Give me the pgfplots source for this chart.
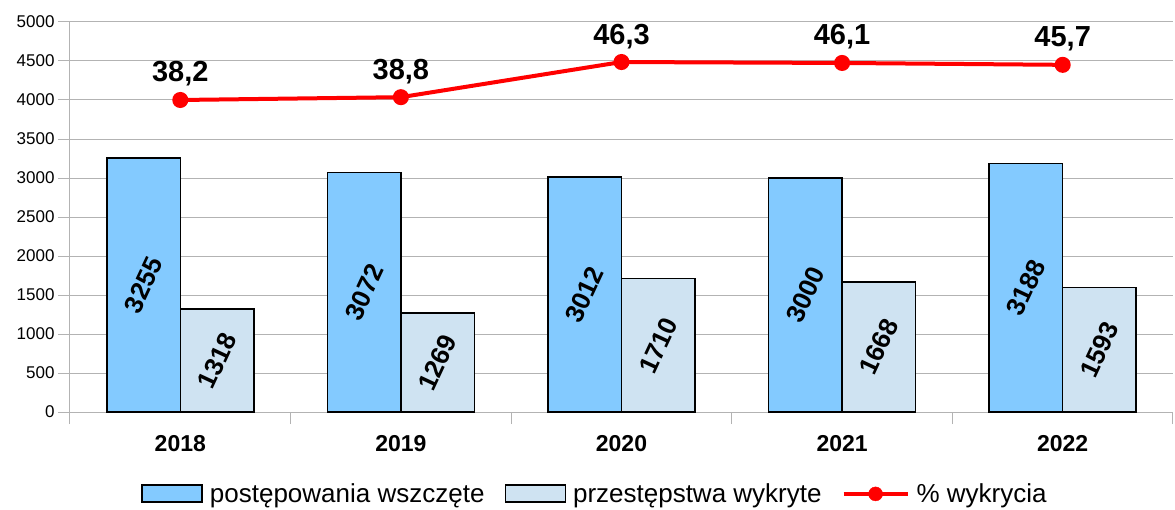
\documentclass[border=0pt]{standalone}
\usepackage{fontspec}
\setmainfont{Liberation Sans}
\usepackage{pgfplots}
\pgfplotsset{compat=1.18}
\definecolor{barA}{RGB}{131,202,255}
\definecolor{barB}{RGB}{207,227,242}
\definecolor{gridc}{RGB}{179,179,179}
\definecolor{lineR}{RGB}{255,0,0}

\begin{document}
\begin{tikzpicture}
\useasboundingbox (-70pt,-97pt) rectangle (1105pt,412pt);
% bars: case counts
\begin{axis}[
  scale only axis, width=1103pt, height=390pt,
  clip=false,
  /pgf/number format/assume math mode=true,
  ybar=0pt, bar width=0.3333,
  ymin=0, ymax=5000, ytick={0,500,...,5000},
  xmin=-0.5, xmax=4.5,
  xtick={-0.5,0.5,...,4.5}, x tick label as interval,
  xticklabels={2018,2019,2020,2021,2022},
  axis x line*=bottom, axis y line*=left,
  axis line style={gridc, line width=1pt},
  ymajorgrids, grid style={gridc, line width=1pt},
  major tick length=12pt, tick align=outside,
  tick style={gridc, line width=1pt},
  scaled y ticks=false,
  yticklabel style={font=\fontsize{17}{20}\selectfont, /pgf/number format/1000 sep={}},
  xticklabel style={font=\bfseries\fontsize{23}{26}\selectfont, yshift=-8pt},
  visualization depends on=rawy \as \rawy,
  nodes near coords,
  every node near coord/.append style={anchor=center, yshift=-0.039*\rawy,
    rotate=65, font=\bfseries\fontsize{26}{29}\selectfont, black,
    /pgf/number format/1000 sep={}},
  legend style={draw=none, fill=none, at={(0.476,-0.21)}, anchor=center,
    legend columns=3, font=\fontsize{26}{29}\selectfont,
    /tikz/every odd column/.append style={column sep=5pt},
    /tikz/every even column/.append style={column sep=18pt}},
]
\addplot[fill=barA, draw=black, line width=1.5pt,
  legend image code/.code={\draw[fill=barA, draw=black, line width=1.5pt] (0pt,-8pt) rectangle (60pt,9pt);}]
  coordinates {(0,3255) (1,3072) (2,3012) (3,3000) (4,3188)};
\addlegendentry{postępowania wszczęte}
\addplot[fill=barB, draw=black, line width=1.5pt,
  legend image code/.code={\draw[fill=barB, draw=black, line width=1.5pt] (0pt,-8pt) rectangle (60pt,9pt);}]
  coordinates {(0,1318) (1,1269) (2,1710) (3,1668) (4,1593)};
\addlegendentry{przestępstwa wykryte}
\addlegendimage{legend image code/.code={\draw[lineR, line width=4pt] (0pt,0pt) -- (64pt,0pt); \fill[lineR] (32pt,0pt) circle (7pt);}}
\addlegendentry{\% wykrycia}
\end{axis}
% detection rate, on a hidden second scale
\begin{axis}[
  scale only axis, width=1103pt, height=390pt,
  clip=false, hide axis,
  xmin=-0.5, xmax=4.5,
  ymin=-28.36, ymax=54.84,
  nodes near coords, point meta=y,
  every node near coord/.append style={anchor=base, inner sep=0pt, yshift=18pt,
    font=\bfseries\fontsize{29}{32}\selectfont, black,
    /pgf/number format/.cd, assume math mode=true, use comma, fixed, precision=1, fixed zerofill},
]
\addplot[lineR, line width=4pt, mark=*, mark size=6pt]
  coordinates {(0,38.2) (1,38.8) (2,46.3) (3,46.1) (4,45.7)};
\end{axis}
\end{tikzpicture}
\end{document}
